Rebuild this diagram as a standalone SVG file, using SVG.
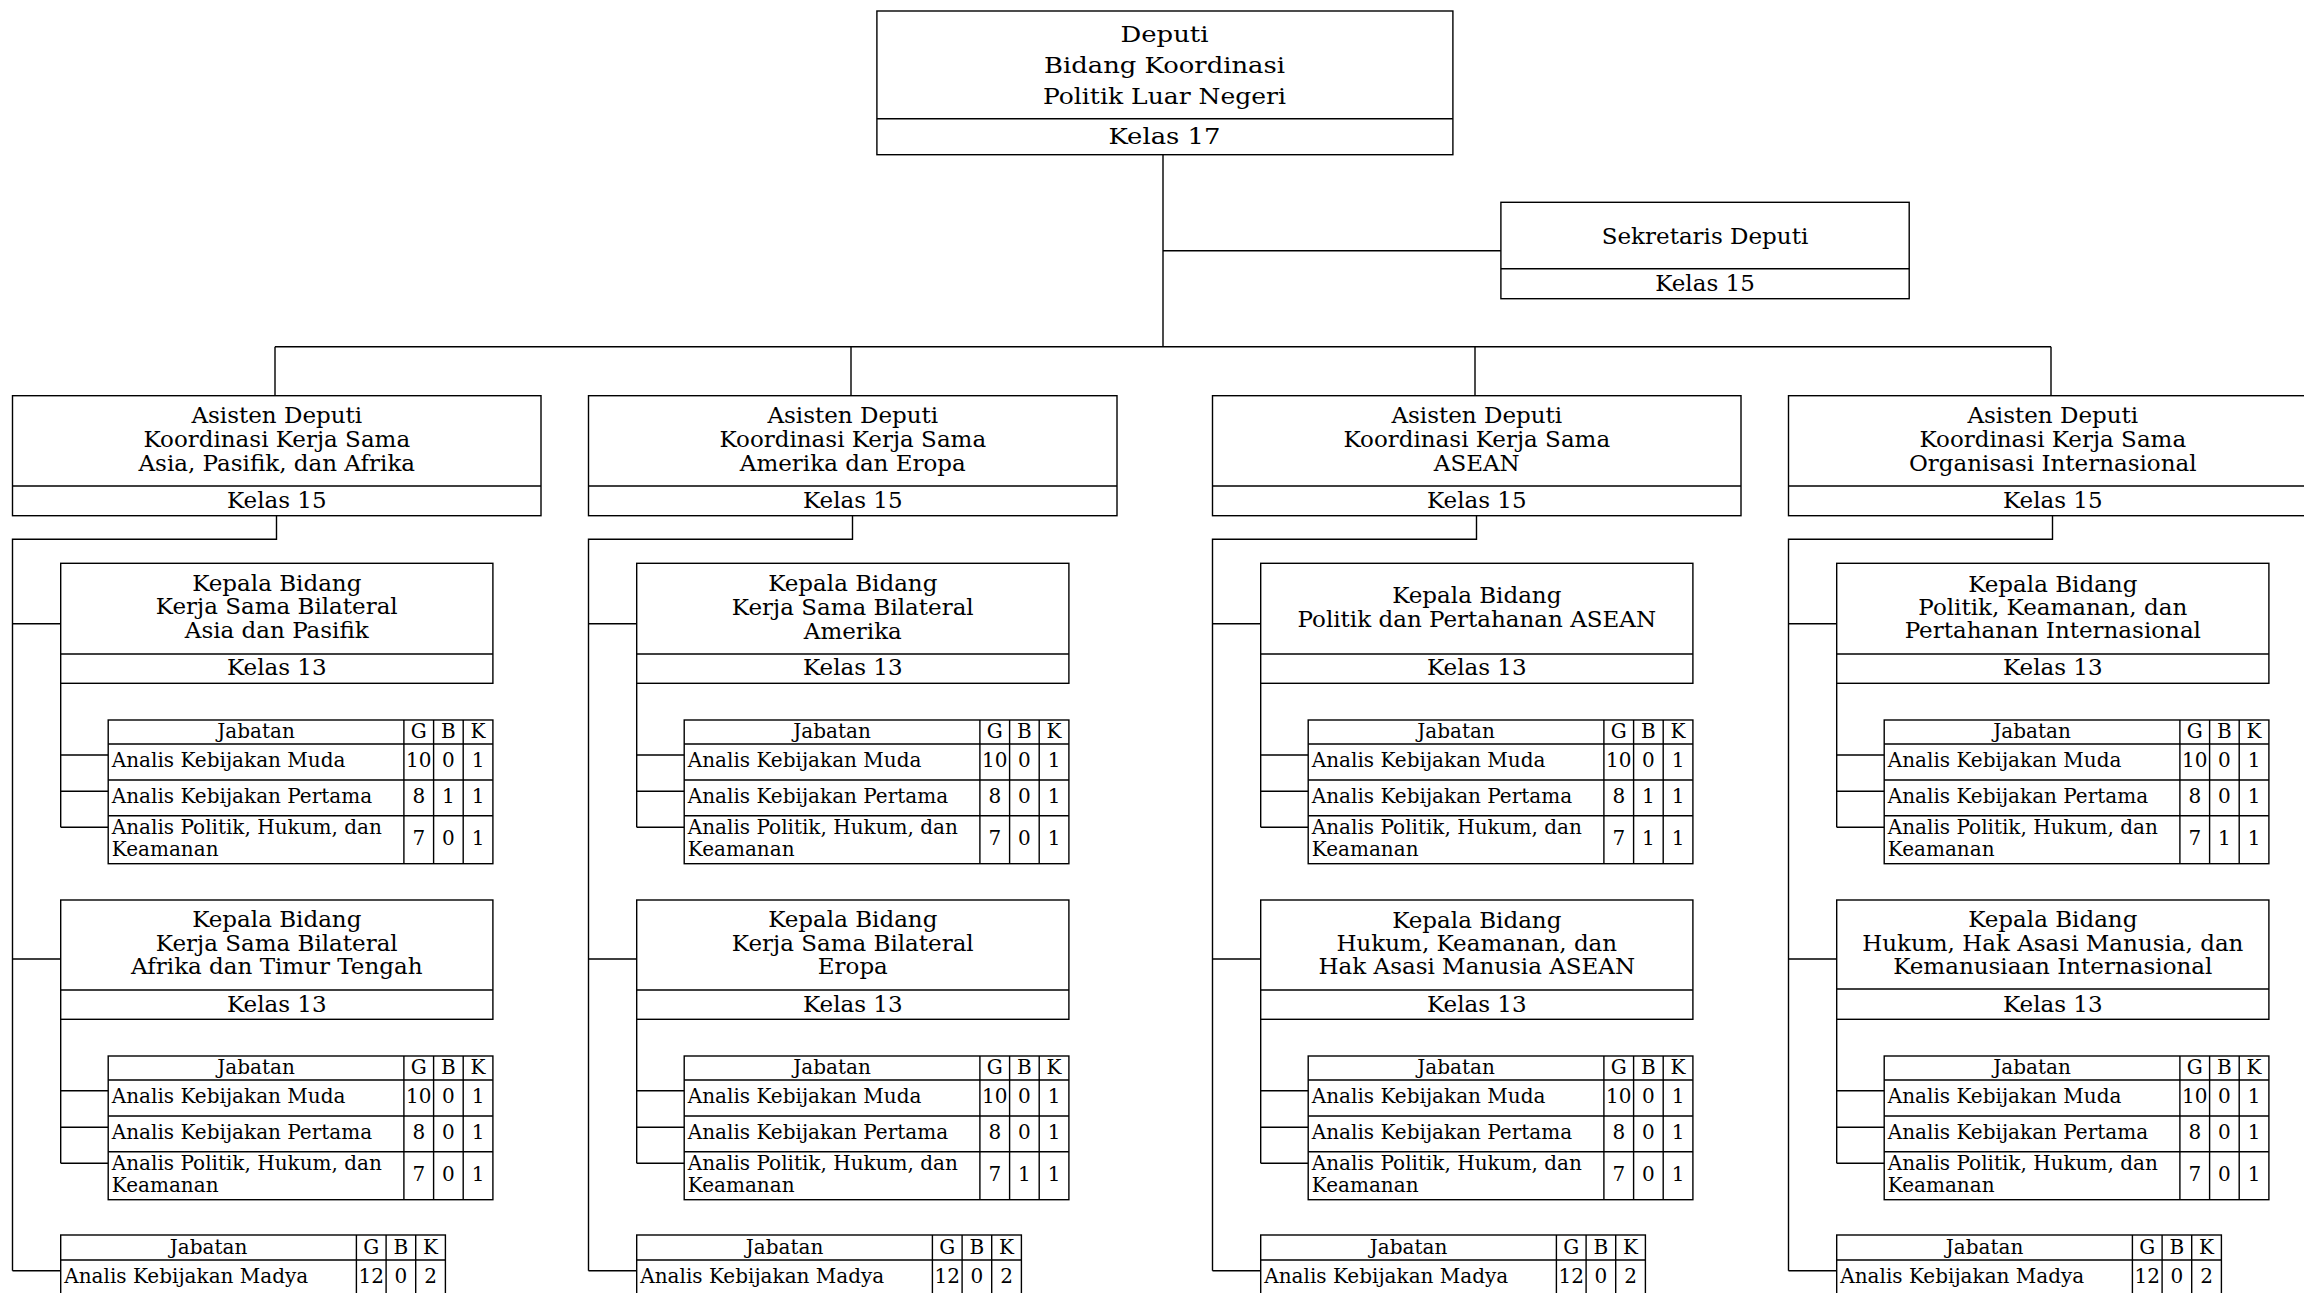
<svg xmlns="http://www.w3.org/2000/svg" xmlns:xlink="http://www.w3.org/1999/xlink" width="2304" height="1293" viewBox="0 0 2304 1293">
<style>
.b{fill:none;stroke:#000;stroke-width:1.4}
.bx{fill:#fff;stroke:#000;stroke-width:1.4}
.c{fill:none;stroke:#000;stroke-width:1.4}
text{font-family:"DejaVu Serif","Liberation Serif",serif;fill:#000}
.m{font-size:23px;text-anchor:middle}
.h{font-size:20px;text-anchor:middle}
.l{font-size:20px}
.n{font-size:20px;text-anchor:middle}
</style>
<defs>
<g id="tblT">
<rect class="bx" x="0" y="0" width="384.7" height="143.7"/>
<path class="b" d="M0 24H384.7M0 60H384.7M0 95.7H384.7M295.7 0V143.7M325.4 0V143.7M355 0V143.7"/>
<text class="h" x="147.9" y="17.5">Jabatan</text>
<text class="h" x="310.6" y="17.5">G</text>
<text class="h" x="340.2" y="17.5">B</text>
<text class="h" x="369.9" y="17.5">K</text>
<text class="l" x="3.6" y="47">Analis Kebijakan Muda</text>
<text class="l" x="3.6" y="83">Analis Kebijakan Pertama</text>
<text class="l" x="3.6" y="113.8">Analis Politik, Hukum, dan</text>
<text class="l" x="3.6" y="135.5">Keamanan</text>
</g>
<g id="madT">
<rect class="bx" x="0" y="0" width="384.7" height="62"/>
<path class="b" d="M0 25H384.7M295.7 0V62M325.4 0V62M355 0V62"/>
<text class="h" x="147.9" y="19.3">Jabatan</text>
<text class="h" x="310.6" y="19.3">G</text>
<text class="h" x="340.2" y="19.3">B</text>
<text class="h" x="369.9" y="19.3">K</text>
<text class="l" x="3.6" y="47.7">Analis Kebijakan Madya</text>
<text class="n" x="310.6" y="47.7">12</text>
<text class="n" x="340.2" y="47.7">0</text>
<text class="n" x="369.9" y="47.7">2</text>
</g>
</defs>
<rect x="0" y="0" width="2304" height="1293" fill="#fff"/>

<g id="connectors">
<path class="c" d="M1163 154.7V346.7M275 346.7H2051M1163 250.7H1500.9"/>
<g transform="translate(0,0)"><path class="c" d="M275 346.7V395.7M276.5 515.7V539.3H12.5V1270.7M12.5 623.7H60.7M12.5 959H60.7M12.5 1270.7H60.7M60.7 683.3V827.3M60.7 755H108.2M60.7 791.3H108.2M60.7 827.3H108.2M60.7 1019.3V1163.3M60.7 1090.7H108.2M60.7 1127.3H108.2M60.7 1163.3H108.2"/></g>
<g transform="translate(576,0)"><path class="c" d="M275 346.7V395.7M276.5 515.7V539.3H12.5V1270.7M12.5 623.7H60.7M12.5 959H60.7M12.5 1270.7H60.7M60.7 683.3V827.3M60.7 755H108.2M60.7 791.3H108.2M60.7 827.3H108.2M60.7 1019.3V1163.3M60.7 1090.7H108.2M60.7 1127.3H108.2M60.7 1163.3H108.2"/></g>
<g transform="translate(1200,0)"><path class="c" d="M275 346.7V395.7M276.5 515.7V539.3H12.5V1270.7M12.5 623.7H60.7M12.5 959H60.7M12.5 1270.7H60.7M60.7 683.3V827.3M60.7 755H108.2M60.7 791.3H108.2M60.7 827.3H108.2M60.7 1019.3V1163.3M60.7 1090.7H108.2M60.7 1127.3H108.2M60.7 1163.3H108.2"/></g>
<g transform="translate(1776,0)"><path class="c" d="M275 346.7V395.7M276.5 515.7V539.3H12.5V1270.7M12.5 623.7H60.7M12.5 959H60.7M12.5 1270.7H60.7M60.7 683.3V827.3M60.7 755H108.2M60.7 791.3H108.2M60.7 827.3H108.2M60.7 1019.3V1163.3M60.7 1090.7H108.2M60.7 1127.3H108.2M60.7 1163.3H108.2"/></g>
</g>

<g id="deputi">
<rect class="bx" x="876.9" y="11" width="576" height="143.7"/>
<path class="b" d="M876.9 118.7H1452.9"/>
<text class="m" x="1164.5" y="41.7" textLength="88" lengthAdjust="spacingAndGlyphs">Deputi</text>
<text class="m" x="1164.5" y="72.7" textLength="241" lengthAdjust="spacingAndGlyphs">Bidang Koordinasi</text>
<text class="m" x="1164.5" y="104.3" textLength="243" lengthAdjust="spacingAndGlyphs">Politik Luar Negeri</text>
<text class="m" x="1164.5" y="144.3" textLength="112" lengthAdjust="spacingAndGlyphs">Kelas 17</text>
</g>

<g id="sekretaris">
<rect class="bx" x="1500.9" y="202.3" width="408.3" height="96.4"/>
<path class="b" d="M1500.9 268.7H1909.2"/>
<text class="m" x="1705" y="244.3">Sekretaris Deputi</text>
<text class="m" x="1705" y="291">Kelas 15</text>
</g>

<!-- Column 1 -->
<g id="col1">
<g id="asdep1">
<rect class="bx" x="12.5" y="395.7" width="528.5" height="120"/>
<path class="b" d="M12.5 486H541"/>
<text class="m" x="276.8" y="422.7">Asisten Deputi</text>
<text class="m" x="276.8" y="446.7">Koordinasi Kerja Sama</text>
<text class="m" x="276.8" y="470.7">Asia, Pasifik, dan Afrika</text>
<text class="m" x="276.8" y="507.7">Kelas 15</text>
</g>
<g id="kabid1a">
<rect class="bx" x="60.7" y="563.3" width="432.2" height="120"/>
<path class="b" d="M60.7 654H492.9"/>
<text class="m" x="276.8" y="590.7">Kepala Bidang</text>
<text class="m" x="276.8" y="614.3">Kerja Sama Bilateral</text>
<text class="m" x="276.8" y="638.3">Asia dan Pasifik</text>
<text class="m" x="276.8" y="675">Kelas 13</text>
</g>
<g id="tabel1a" transform="translate(108.2,720)">
<use xlink:href="#tblT" href="#tblT"/>
<text class="n" x="310.6" y="47">10</text><text class="n" x="340.2" y="47">0</text><text class="n" x="369.9" y="47">1</text>
<text class="n" x="310.6" y="83">8</text><text class="n" x="340.2" y="83">1</text><text class="n" x="369.9" y="83">1</text>
<text class="n" x="310.6" y="125">7</text><text class="n" x="340.2" y="125">0</text><text class="n" x="369.9" y="125">1</text>
</g>
<g id="kabid1b">
<rect class="bx" x="60.7" y="900" width="432.2" height="119.3"/>
<path class="b" d="M60.7 990H492.9"/>
<text class="m" x="276.8" y="927.3">Kepala Bidang</text>
<text class="m" x="276.8" y="951">Kerja Sama Bilateral</text>
<text class="m" x="276.8" y="974">Afrika dan Timur Tengah</text>
<text class="m" x="276.8" y="1011.7">Kelas 13</text>
</g>
<g id="tabel1b" transform="translate(108.2,1056)">
<use xlink:href="#tblT" href="#tblT"/>
<text class="n" x="310.6" y="47">10</text><text class="n" x="340.2" y="47">0</text><text class="n" x="369.9" y="47">1</text>
<text class="n" x="310.6" y="83">8</text><text class="n" x="340.2" y="83">0</text><text class="n" x="369.9" y="83">1</text>
<text class="n" x="310.6" y="125">7</text><text class="n" x="340.2" y="125">0</text><text class="n" x="369.9" y="125">1</text>
</g>
<g id="madya1" transform="translate(60.7,1235)"><use xlink:href="#madT" href="#madT"/></g>
</g>

<!-- Column 2 -->
<g id="col2" transform="translate(576,0)">
<g id="asdep2">
<rect class="bx" x="12.5" y="395.7" width="528.5" height="120"/>
<path class="b" d="M12.5 486H541"/>
<text class="m" x="276.8" y="422.7">Asisten Deputi</text>
<text class="m" x="276.8" y="446.7">Koordinasi Kerja Sama</text>
<text class="m" x="276.8" y="470.7">Amerika dan Eropa</text>
<text class="m" x="276.8" y="507.7">Kelas 15</text>
</g>
<g id="kabid2a">
<rect class="bx" x="60.7" y="563.3" width="432.2" height="120"/>
<path class="b" d="M60.7 654H492.9"/>
<text class="m" x="276.8" y="591">Kepala Bidang</text>
<text class="m" x="276.8" y="615">Kerja Sama Bilateral</text>
<text class="m" x="276.8" y="639">Amerika</text>
<text class="m" x="276.8" y="675">Kelas 13</text>
</g>
<g id="tabel2a" transform="translate(108.2,720)">
<use xlink:href="#tblT" href="#tblT"/>
<text class="n" x="310.6" y="47">10</text><text class="n" x="340.2" y="47">0</text><text class="n" x="369.9" y="47">1</text>
<text class="n" x="310.6" y="83">8</text><text class="n" x="340.2" y="83">0</text><text class="n" x="369.9" y="83">1</text>
<text class="n" x="310.6" y="125">7</text><text class="n" x="340.2" y="125">0</text><text class="n" x="369.9" y="125">1</text>
</g>
<g id="kabid2b">
<rect class="bx" x="60.7" y="900" width="432.2" height="119.3"/>
<path class="b" d="M60.7 990H492.9"/>
<text class="m" x="276.8" y="927.3">Kepala Bidang</text>
<text class="m" x="276.8" y="951">Kerja Sama Bilateral</text>
<text class="m" x="276.8" y="974">Eropa</text>
<text class="m" x="276.8" y="1011.7">Kelas 13</text>
</g>
<g id="tabel2b" transform="translate(108.2,1056)">
<use xlink:href="#tblT" href="#tblT"/>
<text class="n" x="310.6" y="47">10</text><text class="n" x="340.2" y="47">0</text><text class="n" x="369.9" y="47">1</text>
<text class="n" x="310.6" y="83">8</text><text class="n" x="340.2" y="83">0</text><text class="n" x="369.9" y="83">1</text>
<text class="n" x="310.6" y="125">7</text><text class="n" x="340.2" y="125">1</text><text class="n" x="369.9" y="125">1</text>
</g>
<g id="madya2" transform="translate(60.7,1235)"><use xlink:href="#madT" href="#madT"/></g>
</g>

<!-- Column 3 -->
<g id="col3" transform="translate(1200,0)">
<g id="asdep3">
<rect class="bx" x="12.5" y="395.7" width="528.5" height="120"/>
<path class="b" d="M12.5 486H541"/>
<text class="m" x="276.8" y="422.7">Asisten Deputi</text>
<text class="m" x="276.8" y="446.7">Koordinasi Kerja Sama</text>
<text class="m" x="276.8" y="470.7">ASEAN</text>
<text class="m" x="276.8" y="507.7">Kelas 15</text>
</g>
<g id="kabid3a">
<rect class="bx" x="60.7" y="563.3" width="432.2" height="120"/>
<path class="b" d="M60.7 654H492.9"/>
<text class="m" x="276.8" y="603.3">Kepala Bidang</text>
<text class="m" x="276.8" y="626.7">Politik dan Pertahanan ASEAN</text>
<text class="m" x="276.8" y="675">Kelas 13</text>
</g>
<g id="tabel3a" transform="translate(108.2,720)">
<use xlink:href="#tblT" href="#tblT"/>
<text class="n" x="310.6" y="47">10</text><text class="n" x="340.2" y="47">0</text><text class="n" x="369.9" y="47">1</text>
<text class="n" x="310.6" y="83">8</text><text class="n" x="340.2" y="83">1</text><text class="n" x="369.9" y="83">1</text>
<text class="n" x="310.6" y="125">7</text><text class="n" x="340.2" y="125">1</text><text class="n" x="369.9" y="125">1</text>
</g>
<g id="kabid3b">
<rect class="bx" x="60.7" y="900" width="432.2" height="119.3"/>
<path class="b" d="M60.7 990H492.9"/>
<text class="m" x="276.8" y="928">Kepala Bidang</text>
<text class="m" x="276.8" y="951">Hukum, Keamanan, dan</text>
<text class="m" x="276.8" y="974.3">Hak Asasi Manusia ASEAN</text>
<text class="m" x="276.8" y="1011.7">Kelas 13</text>
</g>
<g id="tabel3b" transform="translate(108.2,1056)">
<use xlink:href="#tblT" href="#tblT"/>
<text class="n" x="310.6" y="47">10</text><text class="n" x="340.2" y="47">0</text><text class="n" x="369.9" y="47">1</text>
<text class="n" x="310.6" y="83">8</text><text class="n" x="340.2" y="83">0</text><text class="n" x="369.9" y="83">1</text>
<text class="n" x="310.6" y="125">7</text><text class="n" x="340.2" y="125">0</text><text class="n" x="369.9" y="125">1</text>
</g>
<g id="madya3" transform="translate(60.7,1235)"><use xlink:href="#madT" href="#madT"/></g>
</g>

<!-- Column 4 -->
<g id="col4" transform="translate(1776,0)">
<g id="asdep4">
<rect class="bx" x="12.5" y="395.7" width="528.5" height="120"/>
<path class="b" d="M12.5 486H541"/>
<text class="m" x="276.8" y="422.7">Asisten Deputi</text>
<text class="m" x="276.8" y="446.7">Koordinasi Kerja Sama</text>
<text class="m" x="276.8" y="470.7">Organisasi Internasional</text>
<text class="m" x="276.8" y="507.7">Kelas 15</text>
</g>
<g id="kabid4a">
<rect class="bx" x="60.7" y="563.3" width="432.2" height="120"/>
<path class="b" d="M60.7 654H492.9"/>
<text class="m" x="276.8" y="591.5">Kepala Bidang</text>
<text class="m" x="276.8" y="614.5">Politik, Keamanan, dan</text>
<text class="m" x="276.8" y="637.5">Pertahanan Internasional</text>
<text class="m" x="276.8" y="675">Kelas 13</text>
</g>
<g id="tabel4a" transform="translate(108.2,720)">
<use xlink:href="#tblT" href="#tblT"/>
<text class="n" x="310.6" y="47">10</text><text class="n" x="340.2" y="47">0</text><text class="n" x="369.9" y="47">1</text>
<text class="n" x="310.6" y="83">8</text><text class="n" x="340.2" y="83">0</text><text class="n" x="369.9" y="83">1</text>
<text class="n" x="310.6" y="125">7</text><text class="n" x="340.2" y="125">1</text><text class="n" x="369.9" y="125">1</text>
</g>
<g id="kabid4b">
<rect class="bx" x="60.7" y="900" width="432.2" height="119.3"/>
<path class="b" d="M60.7 989H492.9"/>
<text class="m" x="276.8" y="926.7">Kepala Bidang</text>
<text class="m" x="276.8" y="950.7">Hukum, Hak Asasi Manusia, dan</text>
<text class="m" x="276.8" y="974">Kemanusiaan Internasional</text>
<text class="m" x="276.8" y="1011.7">Kelas 13</text>
</g>
<g id="tabel4b" transform="translate(108.2,1056)">
<use xlink:href="#tblT" href="#tblT"/>
<text class="n" x="310.6" y="47">10</text><text class="n" x="340.2" y="47">0</text><text class="n" x="369.9" y="47">1</text>
<text class="n" x="310.6" y="83">8</text><text class="n" x="340.2" y="83">0</text><text class="n" x="369.9" y="83">1</text>
<text class="n" x="310.6" y="125">7</text><text class="n" x="340.2" y="125">0</text><text class="n" x="369.9" y="125">1</text>
</g>
<g id="madya4" transform="translate(60.7,1235)"><use xlink:href="#madT" href="#madT"/></g>
</g>
</svg>
